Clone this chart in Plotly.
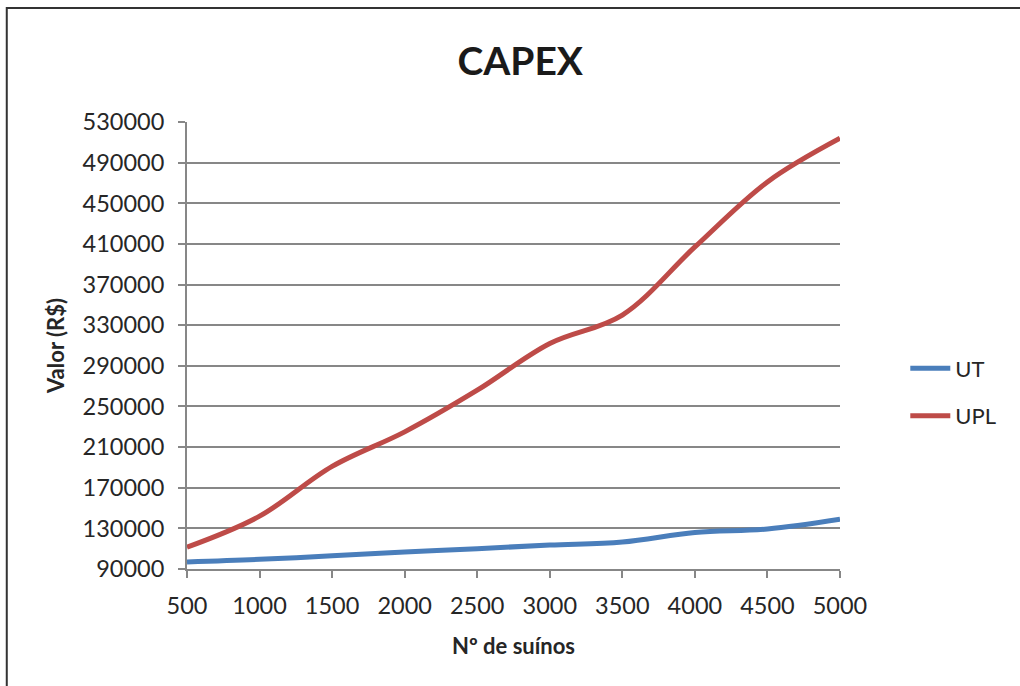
import plotly.graph_objects as go

# Número de suínos (eixo x)
suinos = [500, 1000, 1500, 2000, 2500, 3000, 3500, 4000, 4500, 5000]

# CAPEX em R$ por configuração
capex_ut = [97000, 99500, 103000, 106700, 110000, 113600, 116600, 126000, 129400, 139000]
capex_upl = [111500, 142000, 191000, 225000, 266000, 312000, 340000, 407000, 471000, 514000]

y_ticks = list(range(90000, 530001, 40000))
x_ticks = list(range(500, 5001, 500))

FONT = "Lato"
GRID = "#878787"

fig = go.Figure()
fig.add_trace(go.Scatter(
    x=suinos, y=capex_ut, name="UT", mode="lines",
    line=dict(color="#4A7EBB", width=5, shape="spline"),
    legendgroup="ut",
))
fig.add_trace(go.Scatter(
    x=suinos, y=capex_upl, name="UPL", mode="lines",
    line=dict(color="#BE4B48", width=5, shape="spline"),
    legendgroup="upl",
))

fig.update_layout(
    width=1020, height=686,
    margin=dict(l=187, r=180, t=122, b=117),
    paper_bgcolor="white", plot_bgcolor="white",
    font=dict(family=FONT, color="#262626", size=22),
    title=dict(text="<b>CAPEX</b>", x=0.51, xanchor="center", y=0.91, yanchor="middle",
               font=dict(family=FONT, size=39, color="#1a1a1a")),
    legend=dict(x=1.1, xanchor="left", y=0.395, yanchor="middle",
                font=dict(family=FONT, size=22, color="#262626"),
                tracegroupgap=16, bgcolor="rgba(0,0,0,0)", itemwidth=40),
    xaxis=dict(
        range=[500, 5000], tickvals=x_ticks, showgrid=False, zeroline=False,
        showline=True, linecolor=GRID, linewidth=2,
        ticks="outside", ticklen=7, tickwidth=2, tickcolor=GRID,
        tickfont=dict(family=FONT, size=23.5), ticklabelstandoff=8,
        title=dict(text="<b>Nº de suínos</b>", font=dict(family=FONT, size=22), standoff=20),
    ),
    yaxis=dict(
        range=[90000, 530000], tickvals=y_ticks, showgrid=True, gridcolor=GRID, gridwidth=2,
        zeroline=False, showline=True, linecolor=GRID, linewidth=2,
        ticks="outside", ticklen=7, tickwidth=2, tickcolor=GRID,
        tickfont=dict(family=FONT, size=23.5), tickformat="d", ticklabelstandoff=9,
        title=dict(text="<b>Valor (R$)</b>", font=dict(family=FONT, size=22), standoff=12),
    ),
    shapes=[dict(type="rect", xref="paper", yref="paper",
                 x0=-0.276, x1=1.4, y0=-0.5, y1=1.255,
                 line=dict(color="#333333", width=2), fillcolor="rgba(0,0,0,0)", layer="below")],
)

fig.write_html("out.html")
